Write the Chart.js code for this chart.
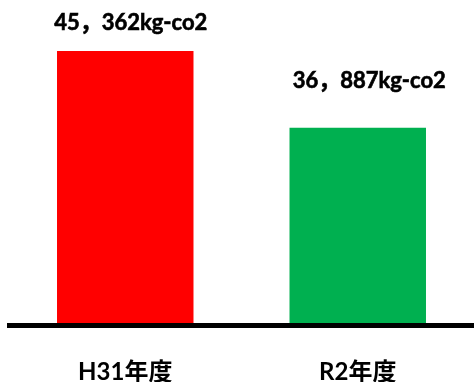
<!DOCTYPE html>
<html>
<head>
<meta charset="utf-8">
<script src="https://cdn.jsdelivr.net/npm/chart.js@4"></script>
<style>
  html, body { margin: 0; padding: 0; background: #fff; }
  #wrap { width: 474px; height: 382px; position: relative; }
</style>
</head>
<body>
<div id="wrap"><canvas id="c"></canvas></div>
<script>
// CO2 emissions per fiscal year (kg-CO2)
const categories = ['H31年度', 'R2年度'];
const emissions = [45362, 36887];
const barColors = ['#FF0000', '#00B050'];

const FONT = "Lato, 'Noto Sans CJK JP', sans-serif";

function formatValue(v) {
  return v.toLocaleString('en-US').replace(',', '，') + 'kg-co2';
}

// Writes the value text above each bar
const valueLabels = {
  id: 'valueLabels',
  afterDatasetsDraw(chart, args, opts) {
    const ctx = chart.ctx;
    const meta = chart.getDatasetMeta(0);
    ctx.save();
    ctx.font = 'bold ' + opts.size + 'px ' + FONT;
    ctx.fillStyle = '#000';
    ctx.strokeStyle = '#000';
    ctx.lineWidth = 0.6;
    ctx.textAlign = 'center';
    ctx.textBaseline = 'alphabetic';
    meta.data.forEach((bar, i) => {
      const off = opts.offsets[i];
      const text = formatValue(chart.data.datasets[0].data[i]);
      const x = bar.x + off.dx, y = bar.y - off.dy;
      ctx.fillText(text, x, y);
      ctx.strokeText(text, x, y);
    });
    ctx.restore();
  }
};

new Chart(document.getElementById('c'), {
  type: 'bar',
  data: {
    labels: categories,
    datasets: [{
      data: emissions,
      backgroundColor: barColors,
      borderWidth: 0,
      barPercentage: 0.587,
      categoryPercentage: 1
    }]
  },
  options: {
    responsive: true,
    maintainAspectRatio: false,
    animation: false,
    layout: { padding: { left: 9, right: 0, top: 0, bottom: -36.5 } },
    plugins: {
      legend: { display: false },
      tooltip: { enabled: false },
      valueLabels: {
        size: 22,
        offsets: [{ dx: 5.5, dy: 21 }, { dx: 11.5, dy: 40 }]
      }
    },
    scales: {
      y: { display: false, min: 15000, max: 51000 },
      x: {
        grid: { display: false, drawTicks: false },
        border: { display: true, color: '#000', width: 5, z: 1 },
        ticks: {
          color: '#000',
          padding: 32,
          font: { family: FONT, size: 24, weight: 'bold' }
        }
      }
    }
  },
  plugins: [valueLabels]
});
</script>
</body>
</html>
